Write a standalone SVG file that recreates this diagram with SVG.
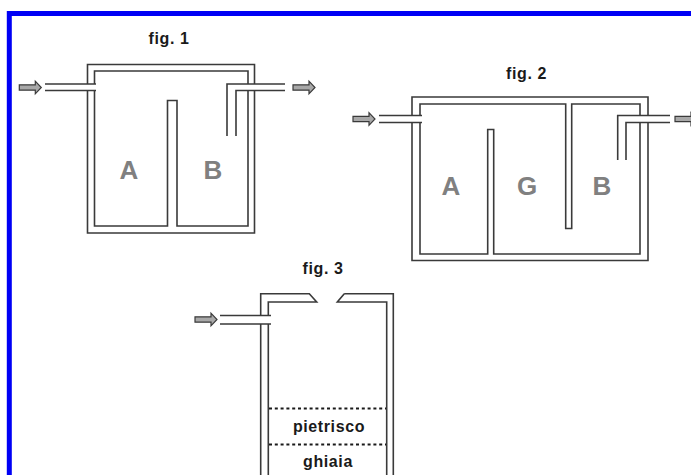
<svg xmlns="http://www.w3.org/2000/svg" width="691" height="475" viewBox="0 0 691 475">
<style>
.w{fill:none;stroke:#3a3a3a;stroke-width:1.6}
.a{fill:#a8a8a8;stroke:#3a3a3a;stroke-width:1.2}
.d{fill:none;stroke:#1a1a1a;stroke-width:2;stroke-dasharray:3 2.800}
.t{font-family:"Liberation Sans",Arial,sans-serif;font-size:16px;fill:#1a1a1a;text-anchor:middle;font-weight:bold;letter-spacing:.6px}
.L{font-family:"Liberation Sans",Arial,sans-serif;font-size:26px;fill:#808080;text-anchor:middle;font-weight:bold}
</style>
<defs>
<path id="ar" class="a" d="M0-2.700H16V-6.300L22 0 16 6.300V2.700H0Z"/>
</defs>
<path d="M9.300 475V13.500H691" fill="none" stroke="#0000f5" stroke-width="5"/>
<g id="fig1">
<text class="t" x="169" y="44">fig. 1</text>
<path class="w" d="M87.500 84V64.500H254.500V84M254.500 91V233H87.500V91"/>
<path class="w" d="M94.500 84V71H248V84M248 91V226H177V100.500H167.500V226H94.500V91"/>
<path class="w" d="M45 84H96M45 90.500H96"/>
<path class="w" d="M227 136V84H285M236 136V90.500H285"/>
<use href="#ar" x="19.300" y="87.500"/>
<use href="#ar" x="293" y="87.500"/>
<text class="L" x="129" y="179">A</text>
<text class="L" x="213" y="179">B</text>
</g>
<g id="fig2">
<text class="t" x="526.500" y="79">fig. 2</text>
<path class="w" d="M412 115.500V97H648V115.500M648 122.500V260.500H412V122.500"/>
<path class="w" d="M420 115.500V104H565.700V228.500H571.700V104H640V115.500M640 122.500V254H493.700V129.500H487.700V254H420V122.500"/>
<path class="w" d="M379 115.500H422M379 122.500H422"/>
<path class="w" d="M617.700 160V115.500H670M626 160V122.500H670"/>
<use href="#ar" x="353" y="119"/>
<use href="#ar" x="675" y="119"/>
<text class="L" x="451" y="194.500">A</text>
<text class="L" x="527" y="194.500">G</text>
<text class="L" x="602" y="194.500">B</text>
</g>
<g id="fig3">
<text class="t" x="323" y="274">fig. 3</text>
<path class="w" d="M260.700 315.500V293.700H309.300L316.700 302H268.300V315.500M344.300 293.700H393.300V475M344.300 293.700L337.300 302H386.700V475M260.700 324V475M268.300 324V475"/>
<path class="w" d="M220 315.500H271M220 324H271"/>
<use href="#ar" x="195" y="319.500"/>
<path class="d" d="M269 408.500H386M269 444.500H386"/>
<text class="t" x="329" y="431.500">pietrisco</text>
<text class="t" x="328" y="467">ghiaia</text>
</g>
</svg>
